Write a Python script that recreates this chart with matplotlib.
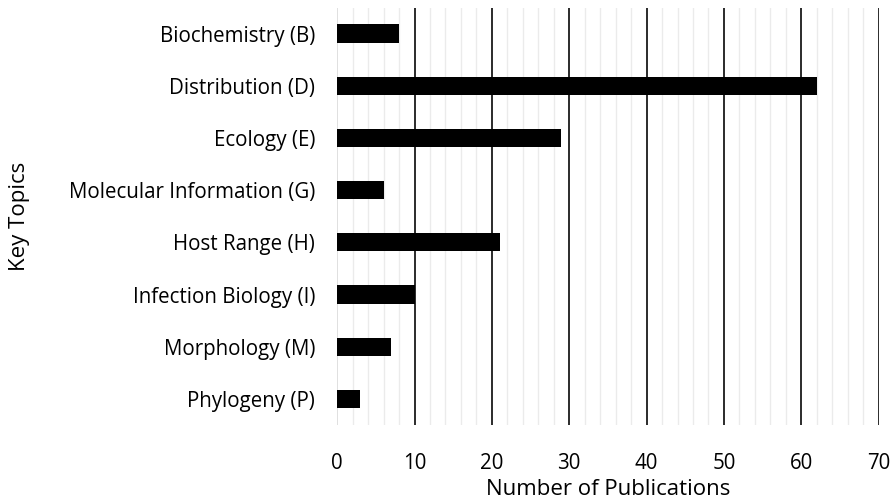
import matplotlib.pyplot as plt
import numpy as np

topics = ['Biochemistry (B)', 'Distribution (D)', 'Ecology (E)', 'Molecular Information (G)',
          'Host Range (H)', 'Infection Biology (I)', 'Morphology (M)', 'Phylogeny (P)']
counts = [8, 62, 29, 6, 21, 10, 7, 3]

plt.rcParams['font.family'] = ['Open Sans', 'DejaVu Sans']

fig, ax = plt.subplots(figsize=(8.92, 5), dpi=100)
fig.subplots_adjust(left=0.378, right=0.985, top=0.985, bottom=0.15)

y = np.arange(len(topics))
ax.barh(y, counts, height=0.35, color='black', zorder=3)
ax.set_yticks(y)
ax.set_yticklabels(topics, fontsize=14.8)
ax.set_ylim(len(topics) - 0.5, -0.5)

ax.set_xlim(0, 70)
ax.set_xticks(np.arange(0, 71, 10))
ax.set_xticks(np.arange(0, 71, 2), minor=True)
ax.tick_params(axis='x', labelsize=14.8, length=0, which='both', pad=20)
ax.tick_params(axis='y', length=0, pad=16)
ax.grid(axis='x', which='minor', color='#ebebeb', linewidth=1, zorder=1)
ax.grid(axis='x', which='major', color='#1a1a1a', linewidth=1.3, zorder=2)
ax.get_xgridlines()[0].set_color('#dddddd')
for s in ['top', 'right', 'bottom', 'left']:
    ax.spines[s].set_visible(False)

ax.set_xlabel('Number of Publications', fontsize=16, labelpad=4)
ax.set_ylabel('Key Topics', fontsize=16)
ax.yaxis.set_label_coords(-0.567, 0.5)

fig.savefig('out.png', dpi=100)
